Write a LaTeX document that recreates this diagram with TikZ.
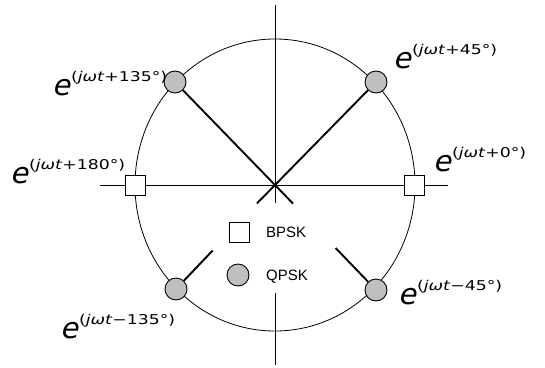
\documentclass[tikz,border=0pt]{standalone}
\usepackage{fontspec}
\setmainfont{Liberation Sans}
\newfontfamily\dvfont{DejaVu Sans}
\newfontfamily\efont[FakeSlant=0.22]{DejaVu Sans}
\usetikzlibrary{calc}
\newcommand{\expo}[1]{{\efont\fontsize{29}{29}\selectfont e}\hspace{1pt}\raisebox{14pt}{\dvfont\fontsize{13.5}{13.5}\selectfont\scalebox{1.28}[1]{(\textit{jωt}#1°)}}}
\tikzset{
  axis/.style={line width=0.8pt},
  rim/.style={line width=0.8pt},
  spoke/.style={line width=1.9pt},
  bsym/.style={draw, fill=white, line width=0.9pt, minimum size=20pt, inner sep=0pt},
  qsym/.style={draw, circle, fill=black!25, line width=0.9pt, minimum size=22pt, inner sep=0pt},
  lbl/.style={anchor=base west, inner sep=0pt},
  legtext/.style={anchor=base west, inner sep=0pt, font=\fontsize{15}{15}\selectfont}
}
\begin{document}
\begin{tikzpicture}[x=1pt,y=-1pt]
\useasboundingbox (0,0) rectangle (545,367);
\coordinate (c) at (275,185);
\coordinate (hl) at (100,185);
\coordinate (hr) at (448,185);
\coordinate (vt) at (275,5);
\coordinate (vm) at (275,203);
\coordinate (vb1) at (275,293);
\coordinate (vb) at (275,365);
% rim
\draw[rim] (c) ellipse [x radius=140, y radius=146];
% axes
\draw[axis] (hl) -- (hr);
\draw[axis] (vt) -- (vm);
\draw[axis] (vb1) -- (vb);
% markers
\node[bsym] (p0) at (414,185) {};
\node[bsym] (p180) at (135,185) {};
\node[qsym] (p45) at (376,82) {};
\node[qsym] (p135) at (175,82) {};
\node[qsym] (p225) at (176,289) {};
\node[qsym] (p315) at (376,290) {};
% spokes
\draw[spoke] (p135) -- ($(p135)!1.18!(c)$);
\draw[spoke] (p45) -- ($(p45)!1.18!(c)$);
\draw[spoke] (p225) -- ($(p225)!0.37!(c)$);
\draw[spoke] (p315) -- ($(p315)!0.40!(c)$);
% legend
\node[bsym] (lb) at (239,232) {};
\node[qsym] (lq) at (238,275) {};
\node[legtext] (tb) at (266,237) {BPSK};
\node[legtext] (tq) at (266,280) {QPSK};
% labels
\node[lbl] (l135) at (52,95) {\expo{+135}};
\node[lbl] (l180) at (10,183) {\expo{+180}};
\node[lbl] (l45) at (393,68) {\expo{+45}};
\node[lbl] (l0) at (433,171) {\expo{+0}};
\node[lbl] (lm135) at (60,338) {\expo{−135}};
\node[lbl] (lm45) at (398,304) {\expo{−45}};
\end{tikzpicture}
\end{document}
